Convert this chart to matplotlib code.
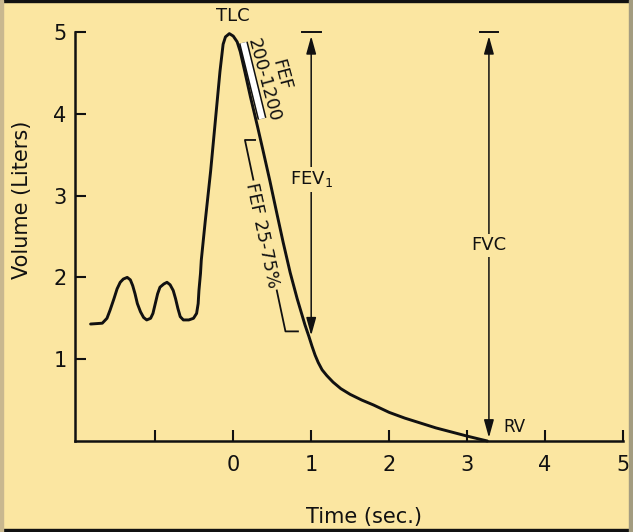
import matplotlib
matplotlib.use("Agg")
import matplotlib.pyplot as plt
from matplotlib.patches import Rectangle

# ---- data ----
time_s = [-1.83, -1.68, -1.62, -1.58, -1.53, -1.49, -1.45, -1.41, -1.36, -1.32,
          -1.29, -1.26, -1.23, -1.19, -1.15, -1.11, -1.06, -1.03, -1.00, -0.97,
          -0.94, -0.89, -0.85, -0.81, -0.77, -0.74, -0.71, -0.68, -0.64, -0.57,
          -0.51, -0.47, -0.45, -0.44, -0.42, -0.41, -0.36, -0.29, -0.23, -0.17,
          -0.13, -0.10, -0.05, 0.00, 0.05, 0.09, 0.15, 0.22, 0.31, 0.38,
          0.47, 0.56, 0.64, 0.73, 0.82, 0.92, 0.97, 1.01, 1.05, 1.09,
          1.14, 1.20, 1.28, 1.38, 1.50, 1.65, 1.80, 2.00, 2.20, 2.40,
          2.60, 2.80, 3.00, 3.15, 3.26]
volume_l = [1.43, 1.44, 1.50, 1.60, 1.74, 1.86, 1.94, 1.98, 2.00, 1.97,
            1.90, 1.80, 1.68, 1.58, 1.51, 1.48, 1.50, 1.56, 1.68, 1.80,
            1.88, 1.92, 1.94, 1.91, 1.84, 1.74, 1.62, 1.52, 1.48, 1.48,
            1.50, 1.56, 1.68, 1.84, 2.05, 2.21, 2.68, 3.30, 3.91, 4.52,
            4.85, 4.94, 4.98, 4.95, 4.88, 4.76, 4.51, 4.21, 3.85, 3.56,
            3.18, 2.78, 2.43, 2.06, 1.74, 1.42, 1.28, 1.16, 1.05, 0.96,
            0.87, 0.80, 0.72, 0.64, 0.57, 0.50, 0.44, 0.35, 0.28, 0.22,
            0.16, 0.11, 0.06, 0.025, 0.00]

x_ticks = [-1, 0, 1, 2, 3, 4, 5]
x_tick_labels = ["", "0", "1", "2", "3", "4", "5"]
y_ticks = [1, 2, 3, 4, 5]
y_tick_labels = ["1", "2", "3", "4", "5"]

tlc = 5.0
fev1_time = 1.0
fev1_end = 1.29
fvc_time = 3.28
rv = 0.0
fef200_segment_t = [0.13, 0.37]
fef200_segment_v = [4.87, 3.94]
fef2575_t = [0.28, 0.15, 0.67, 0.83]
fef2575_v = [3.68, 3.68, 1.34, 1.34]

bg = "#FBE6A1"
ink = "#111111"

fig = plt.figure(figsize=(6.33, 5.32), dpi=100, facecolor=bg)
ax = fig.add_axes([75/633, 1-441/532, (623-75)/633, (441-32)/532])
ax.set_facecolor(bg)

ax.plot(time_s, volume_l, color=ink, lw=2.1, clip_on=False,
        solid_capstyle="round", solid_joinstyle="round")

# FEF 200-1200 white bar
ax.plot(fef200_segment_t, fef200_segment_v, color=ink, lw=6.5, solid_capstyle="butt", clip_on=False)
ax.plot(fef200_segment_t, fef200_segment_v, color="white", lw=4.3, solid_capstyle="butt", clip_on=False)
ax.text(0.50, 4.44, "FEF\n200-1200", rotation=-75, rotation_mode="anchor",
        ha="center", va="center", multialignment="center", fontsize=13,
        color=ink, linespacing=1.0)

# FEF 25-75% bracket
ax.plot(fef2575_t, fef2575_v, color=ink, lw=1.3)
ax.text(0.37, 2.51, "FEF 25-75%", rotation=-78, rotation_mode="anchor",
        ha="center", va="center", fontsize=13, color=ink,
        bbox=dict(facecolor=bg, edgecolor="none", pad=1.5))

arrow_kw = dict(arrowstyle="<|-|>,head_length=0.9,head_width=0.25", color=ink,
                lw=1.1, shrinkA=0, shrinkB=0, mutation_scale=12)

# FEV1
ax.plot([fev1_time - 0.12, fev1_time + 0.12], [tlc, tlc], color=ink, lw=1.4, clip_on=False)
ax.annotate("", xy=(fev1_time, fev1_end), xytext=(fev1_time, tlc - 0.05),
            arrowprops=arrow_kw, annotation_clip=False)
ax.text(fev1_time, 3.2, "FEV$_1$", ha="center", va="center", fontsize=13, color=ink,
        bbox=dict(facecolor=bg, edgecolor="none", pad=2))

# FVC
ax.plot([fvc_time - 0.12, fvc_time + 0.12], [tlc, tlc], color=ink, lw=1.4, clip_on=False)
ax.annotate("", xy=(fvc_time, rv + 0.04), xytext=(fvc_time, tlc - 0.05),
            arrowprops=arrow_kw, annotation_clip=False)
ax.text(fvc_time, 2.39, "FVC", ha="center", va="center", fontsize=13, color=ink,
        bbox=dict(facecolor=bg, edgecolor="none", pad=2))

ax.text(3.46, 0.06, "RV", ha="left", va="bottom", fontsize=12, color=ink)
ax.text(-0.01, 5.2, "TLC", ha="center", va="center", fontsize=13, color=ink, clip_on=False)

ax.set_xlim(-2.03, 5.0)
ax.set_ylim(0, 5.0)
ax.set_xticks(x_ticks)
ax.set_xticklabels(x_tick_labels)
ax.set_yticks(y_ticks)
ax.set_yticklabels(y_tick_labels)
for s in ["top", "right"]:
    ax.spines[s].set_visible(False)
for s in ["left", "bottom"]:
    ax.spines[s].set_linewidth(1.8)
    ax.spines[s].set_color(ink)
ax.tick_params(axis="both", direction="in", length=8, width=1.5, colors=ink, labelsize=15)
ax.tick_params(axis="x", pad=10)
ax.tick_params(axis="y", pad=6)

ax.set_xlabel("Time (sec.)", fontsize=15, color=ink)
ax.xaxis.set_label_coords(0.527, -0.162)
ax.set_ylabel("Volume (Liters)", fontsize=15, color=ink)
ax.yaxis.set_label_coords(-0.078, 0.59)

# figure frame
fig.patches.append(Rectangle((0, 1 - 2/532), 1, 2/532, transform=fig.transFigure, color="#111111"))
fig.patches.append(Rectangle((0, 0), 1, 3/532, transform=fig.transFigure, color="#111111"))
fig.patches.append(Rectangle((1 - 4/633, 0), 4/633, 1, transform=fig.transFigure, color="#A39C80"))
fig.patches.append(Rectangle((0, 0), 3/633, 1, transform=fig.transFigure, color="#C9B88F"))

fig.savefig("out.png", dpi=100, facecolor=bg)
